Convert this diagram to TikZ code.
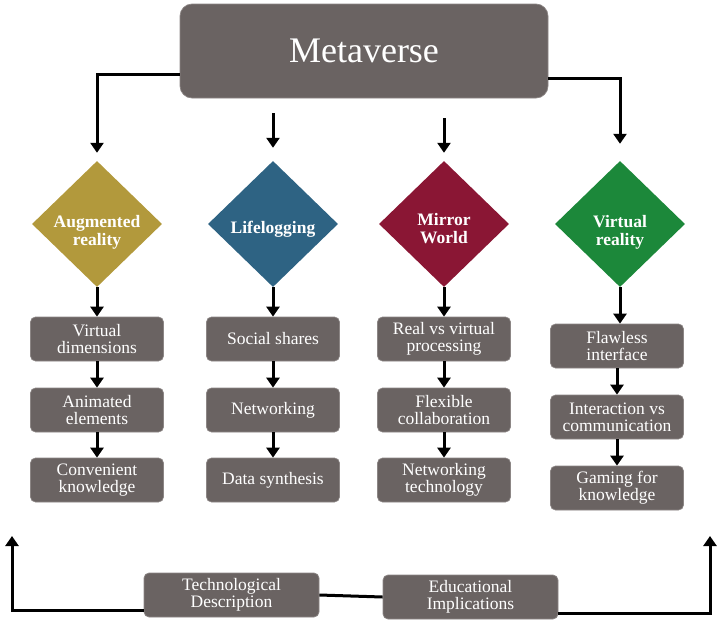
\documentclass[tikz,border=0pt]{standalone}
\usepackage{fontspec}
\setmainfont{Liberation Serif}
\newfontfamily\timesfont{Liberation Serif}
\usepackage{tikz}
\usepackage{xcolor}
\usetikzlibrary{positioning, arrows.meta}
\usetikzlibrary{shapes, positioning}

\definecolor{boxgray}{RGB}{106,99,98}
\definecolor{boxedge}{RGB}{140,134,133}
\definecolor{argold}{RGB}{178,153,60}
\definecolor{llblue}{RGB}{46,99,131}
\definecolor{mwred}{RGB}{138,22,52}
\definecolor{vrgreen}{RGB}{28,136,58}

\tikzset{
    box/.style={rectangle, rounded corners=5pt, draw=boxedge, line width=0.7pt, fill=boxgray, text=white, align=center, minimum width=133pt, minimum height=44pt, inner sep=2pt, font=\timesfont\fontsize{17.5}{17}\selectfont},
    diam/.style={diamond, fill=#1, inner sep=0pt, minimum width=130pt, minimum height=126pt},
    dtext/.style={text=white, align=center, yshift=-8pt, font=\timesfont\bfseries\fontsize{17.5}{18}\selectfont},
    flow/.style={line width=3pt, -{Triangle[width=13pt, length=10pt]}}
}

\begin{document}
\begin{tikzpicture}[x=1pt, y=-1pt]
            \useasboundingbox (0, 0) rectangle (720, 624);

            \node[box, rounded corners=12pt, minimum width=368pt, minimum height=94pt, font=\timesfont\fontsize{36}{40}\selectfont] (meta) at (364, 51) {Metaverse};

            \node[diam=argold, label={[dtext]center:Augmented\\reality}] (aug) at (97, 224) {};
            \node[diam=llblue, label={[dtext, yshift=3pt]center:Lifelogging}] (life) at (273, 224) {};
            \node[diam=mwred, label={[dtext, yshift=3pt]center:Mirror\\World}] (mirror) at (444, 224) {};
            \node[diam=vrgreen, label={[dtext]center:Virtual\\reality}] (vr) at (620, 224) {};

            \node[box] (aug1) at (97, 339) {Virtual\\dimensions};
            \node[box] (aug2) at (97, 410) {Animated\\elements};
            \node[box] (aug3) at (97, 480) {Convenient\\knowledge};
            \node[box] (life1) at (273, 339) {Social shares};
            \node[box] (life2) at (273, 410) {Networking};
            \node[box] (life3) at (273, 480) {Data synthesis};
            \node[box] (mirror1) at (444, 339) {Real vs virtual\\processing};
            \node[box] (mirror2) at (444, 410) {Flexible\\collaboration};
            \node[box] (mirror3) at (444, 480) {Networking\\technology};
            \node[box] (vr1) at (617, 346) {Flawless\\interface};
            \node[box] (vr2) at (617, 417) {Interaction vs\\communication};
            \node[box] (vr3) at (617, 488) {Gaming for\\knowledge};

            \node[box, minimum width=175pt] (tech) at (231.5, 595) {Technological\\Description};
            \node[box, minimum width=175pt] (edu) at (470.5, 597) {Educational\\Implications};

            \coordinate (lifein) at (273, 113);
            \coordinate (mirrorin) at (444, 118);
            \coordinate (ltop) at (12, 536);
            \coordinate (rtop) at (710, 536);

            \draw[flow] ([yshift=-23pt]meta.west) -| ([yshift=8pt]aug.north);
            \draw[flow] ([yshift=-27pt]meta.east) -| ([yshift=17pt]vr.north);
            \draw[flow] (lifein) -- ([yshift=13pt]life.north);
            \draw[flow] (mirrorin) -- ([yshift=8pt]mirror.north);

            \draw[flow] (aug.south) -- (aug1.north);
            \draw[flow] (aug1) -- (aug2);
            \draw[flow] (aug2) -- (aug3);
            \draw[flow] (life.south) -- (life1.north);
            \draw[flow] (life1) -- (life2);
            \draw[flow] (life2) -- (life3);
            \draw[flow] (mirror.south) -- (mirror1.north);
            \draw[flow] (mirror1) -- (mirror2);
            \draw[flow] (mirror2) -- (mirror3);
            \draw[flow] (vr.south) -- (vr.south |- vr1.north);
            \draw[flow] (vr1) -- (vr2);
            \draw[flow] (vr2) -- (vr3);

            \draw[line width=3pt] (tech.east) -- (edu.west);
            \draw[flow] ([yshift=-15pt]tech.west) -| (ltop);
            \draw[flow] ([yshift=-16pt]edu.east) -| (rtop);
\end{tikzpicture}
\end{document}
